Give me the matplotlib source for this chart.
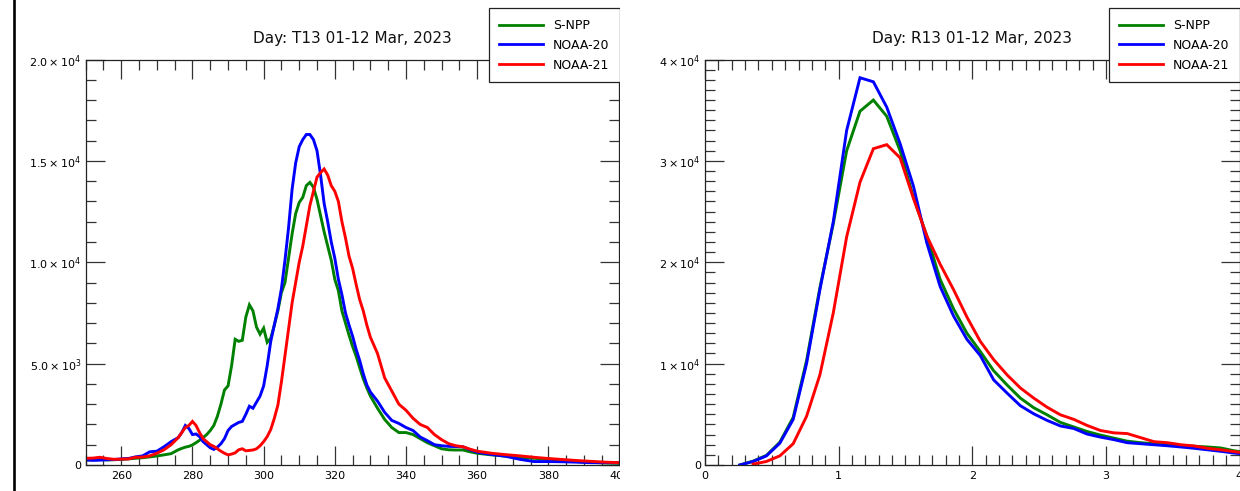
import numpy as np
import matplotlib
matplotlib.use("Agg")
import matplotlib.pyplot as plt
from matplotlib.ticker import MultipleLocator, FixedLocator
from matplotlib.lines import Line2D
from matplotlib.patches import Rectangle

plt.rcParams['font.family'] = ['DejaVu Sans']
plt.rcParams['mathtext.fontset'] = 'dejavusans'

# ---------------- data ----------------
series_names = ["S-NPP", "NOAA-20", "NOAA-21"]
series_colors = ["#008000", "#0000ff", "#ff0000"]

# Left panel: T13 brightness temperature (K)
t13_x = ([250, 252, 254, 256, 258, 260, 262, 264, 266, 268, 270, 272, 274]
         + list(range(276, 331))
         + [332, 334, 336, 338, 340, 342, 344, 346, 348, 350, 352, 354, 356, 358, 360]
         + [364, 368, 372, 376, 380, 384, 388, 392, 396, 400])

t13_snpp = [250, 260, 270, 250, 260, 280, 300, 330, 360, 400, 445, 500, 560,
            750, 820, 880, 920, 990, 1100, 1220, 1350, 1500, 1700, 1950, 2400, 3000, 3700,
            3900, 4900, 6200, 6100, 6150, 7300, 7900, 7600, 6800, 6450, 6750, 6050, 6250,
            6900, 7600, 8500, 9000, 10200, 11400, 12400, 12950, 13200, 13780, 13940, 13700,
            13100, 12300, 11500, 10800, 10100, 9160, 8600, 7600, 7000, 6400, 5850, 5360,
            4800, 4250, 3800, 3400,
            2800, 2250, 1850, 1600, 1600, 1500, 1300, 1100, 950, 800, 750, 740, 740, 650, 580,
            500, 440, 380, 330, 290, 230, 170, 130, 100, 80]

t13_n20 = [250, 230, 240, 260, 270, 300, 320, 400, 450, 650, 680, 900, 1150,
           1350, 1600, 1950, 1800, 1500, 1530, 1400, 1150, 1000, 850, 770, 880, 1050, 1300,
           1700, 1900, 2000, 2100, 2150, 2500, 2900, 2800, 3100, 3400, 3900, 4900, 6100,
           6900, 7700, 8700, 10100, 11700, 13600, 14900, 15700, 16050, 16300, 16300, 16050,
           15500, 14300, 12900, 12000, 11000, 10200, 9160, 8400, 7500, 6900, 6350, 5700,
           5150, 4500, 3950, 3600,
           3150, 2600, 2200, 2050, 1850, 1700, 1380, 1200, 1000, 950, 920, 910, 900, 750, 630,
           520, 430, 280, 170, 170, 160, 140, 115, 115, 110]

t13_n21 = [330, 340, 380, 320, 280, 290, 300, 380, 390, 450, 580, 750, 1000,
           1350, 1600, 1850, 1950, 2150, 1950, 1600, 1300, 1150, 1000, 920, 800, 680, 580,
           500, 540, 600, 750, 800, 700, 720, 740, 800, 950, 1150, 1400, 1750,
           2300, 2950, 4100, 5400, 6700, 8000, 9000, 10000, 10800, 11800, 12800, 13500,
           14200, 14420, 14600, 14300, 13780, 13500, 13000, 12000, 11200, 10300, 9700, 8900,
           8150, 7600, 6900, 6300,
           5500, 4300, 3650, 3000, 2700, 2300, 2000, 1850, 1500, 1250, 1050, 950, 900, 780, 680,
           580, 510, 450, 380, 320, 270, 220, 180, 140, 115]

# Right panel: R13 values
r13_x = [0.26, 0.36, 0.46, 0.56, 0.66, 0.76, 0.86, 0.96, 1.06, 1.16, 1.26, 1.36, 1.46,
         1.56, 1.66, 1.76, 1.86, 1.96, 2.06, 2.16, 2.26, 2.36, 2.46, 2.56, 2.66, 2.76,
         2.86, 2.96, 3.06, 3.16, 3.26, 3.36, 3.46, 3.56, 3.66, 3.76, 3.86, 3.96, 4.06]

r13_snpp = [0, 380, 950, 2250, 4700, 10300, 17500, 23800, 31000, 34900, 36000, 34400, 31000,
            26400, 22600, 18300, 15400, 13000, 11200, 9300, 7900, 6600, 5650, 4950, 4200, 3750,
            3300, 2950, 2650, 2350, 2200, 2100, 2000, 1900, 1850, 1780, 1680, 1400, 1200]

r13_n20 = [0, 350, 900, 2150, 4500, 10000, 17300, 24000, 33000, 38200, 37800, 35300, 31700,
           27500, 21900, 17600, 14700, 12400, 10800, 8400, 7100, 5850, 5050, 4400, 3850, 3600,
           3050, 2750, 2500, 2200, 2100, 2000, 1900, 1780, 1650, 1500, 1350, 1180, 1050]

r13_n21 = [np.nan, 80, 350, 900, 2100, 4800, 8900, 15000, 22500, 27900, 31200, 31600, 30300,
           26300, 22600, 19800, 17300, 14600, 12200, 10400, 8900, 7600, 6600, 5700, 4950, 4500,
           3900, 3400, 3170, 3100, 2700, 2300, 2200, 2000, 1880, 1650, 1500, 1320, 1150]

titles = ["Day: T13 01-12 Mar, 2023", "Day: R13 01-12 Mar, 2023"]

left_yticks = [0, 5000, 10000, 15000, 20000]
left_ylabels = ["0", r"$5.0\times10^{3}$", r"$1.0\times10^{4}$",
                r"$1.5\times10^{4}$", r"$2.0\times10^{4}$"]
right_yticks = [0, 10000, 20000, 30000, 40000]
right_ylabels = ["0", r"$1\times10^{4}$", r"$2\times10^{4}$",
                 r"$3\times10^{4}$", r"$4\times10^{4}$"]

# ---------------- figure ----------------
W, H = 1240, 491
fig = plt.figure(figsize=(W / 100, H / 100), dpi=100)
fig.patch.set_facecolor("white")

def fx(px):
    return px / W

def fy(py):
    return 1 - py / H

ax_top, ax_bot = 59.5, 465.0
axL = fig.add_axes([fx(85.7), fy(ax_bot), fx(619.5) - fx(85.7), fy(ax_top) - fy(ax_bot)])
axR = fig.add_axes([fx(705.0), fy(ax_bot), fx(1239.5) - fx(705.0), fy(ax_top) - fy(ax_bot)])

def style_axes(ax):
    for s in ax.spines.values():
        s.set_linewidth(0.9)
        s.set_color("#222222")
    ax.tick_params(which="both", direction="in", top=True, right=True,
                   color="#333333", width=0.9, labelsize=8)
    ax.tick_params(which="major", length=13.5, pad=4)
    ax.tick_params(which="minor", length=7)
    ax.tick_params(axis="y", which="major", pad=3)

lw = 2.1
for ax, xs, ys, title in [
    (axL, t13_x, [t13_snpp, t13_n20, t13_n21], titles[0]),
    (axR, r13_x, [r13_snpp, r13_n20, r13_n21], titles[1]),
]:
    for yv, name, col in zip(ys, series_names, series_colors):
        ax.plot(xs, yv, color=col, lw=lw, label=name, solid_joinstyle="miter")
    style_axes(ax)
    ax.set_title(title, fontsize=11, pad=12, color="#111111")

axL.set_xlim(250, 400)
axL.set_ylim(0, 20000)
axL.xaxis.set_major_locator(FixedLocator([260, 280, 300, 320, 340, 360, 380, 400]))
axL.xaxis.set_minor_locator(MultipleLocator(5))
axL.set_yticks(left_yticks)
axL.set_yticklabels(left_ylabels)
axL.yaxis.set_minor_locator(MultipleLocator(1000))

axR.set_xlim(0, 4)
axR.set_ylim(0, 40000)
axR.xaxis.set_major_locator(FixedLocator([0, 1, 2, 3, 4]))
axR.xaxis.set_minor_locator(MultipleLocator(0.1))
axR.set_yticks(right_yticks)
axR.set_yticklabels(right_ylabels)
axR.yaxis.set_minor_locator(MultipleLocator(1000))

for ax, lx in [(axL, 488.5), (axR, 1108.8)]:
    leg = ax.legend(loc="upper left", bbox_to_anchor=(fx(lx), fy(8.3)),
                    bbox_transform=fig.transFigure, borderaxespad=0,
                    fontsize=9, frameon=True, fancybox=False, framealpha=1,
                    edgecolor="#222222", borderpad=0.85, handlelength=3.5,
                    handletextpad=0.8, labelspacing=0.55)
    leg.get_frame().set_linewidth(0.9)
    for h in leg.get_lines():
        h.set_linewidth(2.0)
    leg.set_zorder(20)

# crop between the two panels (left panel is cut at x=620)
fig.add_artist(Rectangle((fx(620), 0), fx(652) - fx(620), 1, transform=fig.transFigure,
                         facecolor="white", edgecolor="none", zorder=30))
# left border line of the screenshot
fig.add_artist(Line2D([fx(13.5), fx(13.5)], [0, 1], transform=fig.transFigure,
                      color="black", lw=1.9, zorder=30))

fig.savefig("out.png", dpi=100, facecolor="white")
